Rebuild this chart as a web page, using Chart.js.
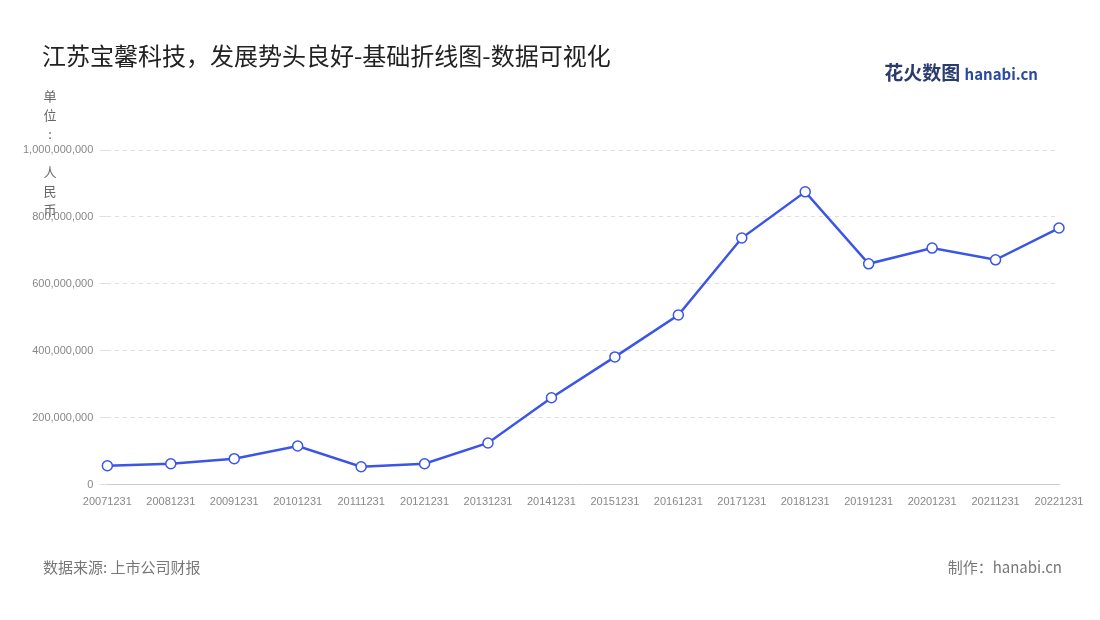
<!DOCTYPE html>
<html>
<head>
<meta charset="utf-8">
<script src="https://cdn.jsdelivr.net/npm/chart.js@4"></script>
<style>
  body { margin: 0; background: #fff; font-family: "Noto Sans CJK SC", "Noto Sans", sans-serif; }
  #wrap { position: relative; width: 1100px; height: 620px; }
  #title { position: absolute; left: 42px; top: 37px; font-size: 24px; color: #222; }
  #logo { position: absolute; right: 62px; top: 58px; font-size: 19px; font-weight: bold; color: #2a3b6e; }
  #logo span { font-size: 15px; color: #2a4aa0; }
  #unit { position: absolute; left: 42px; top: 86px; width: 16px; font-size: 13px; color: #666; line-height: 19px; text-align: center; }
  #src { position: absolute; left: 43px; top: 556px; font-size: 15px; color: #777; }
  #made { position: absolute; right: 38px; top: 556px; font-size: 15px; color: #777; }
  canvas { position: absolute; left: 0; top: 0; }
</style>
</head>
<body>
<div id="wrap">
  <canvas id="c" width="1100" height="620"></canvas>
  <div id="title">江苏宝馨科技，发展势头良好-基础折线图-数据可视化</div>
  <div id="logo">花火数图 <span>hanabi.cn</span></div>
  <div id="unit">单<br>位<br>:<br><br>人<br>民<br>币</div>
  <div id="src">数据来源: 上市公司财报</div>
  <div id="made">制作：hanabi.cn</div>
</div>
<script>
// 年报日期
const years = ['20071231','20081231','20091231','20101231','20111231','20121231','20131231','20141231',
               '20151231','20161231','20171231','20181231','20191231','20201231','20211231','20221231'];
// 营业收入（元）
const revenue = [57000000, 63000000, 78000000, 116000000, 54000000, 63000000, 125000000, 260000000,
                 382000000, 507000000, 737000000, 875000000, 660000000, 707000000, 672000000, 767000000];

const ctx = document.getElementById('c').getContext('2d');
new Chart(ctx, {
    type: 'line',
    data: {
        labels: years,
        datasets: [{
            label: '营业收入',
            data: revenue,
            borderColor: '#3b55e6',
            borderWidth: 2.5,
            pointBackgroundColor: '#fff',
            pointBorderColor: '#3b55e6',
            pointBorderWidth: 1.5,
            pointRadius: 5,
            tension: 0
        }]
    },
    options: {
        responsive: false,
        animation: false,
        layout: { padding: { left: 17, right: 41, top: 150, bottom: 108 } },
        plugins: { legend: { display: false }, tooltip: { enabled: false } },
        scales: {
            x: {
                grid: { display: false },
                border: { color: '#ccc' },
                ticks: { color: '#888', font: { size: 11 }, maxRotation: 0, autoSkip: false }
            },
            y: {
                min: 0, max: 1000000000,
                ticks: { stepSize: 200000000, color: '#888', font: { size: 11 }, padding: 6,
                         callback: v => v.toLocaleString('en-US') },
                grid: { color: '#e0e0e0' },
                border: { display: false, dash: [4, 4] }
            }
        }
    }
});
</script>
</body>
</html>
